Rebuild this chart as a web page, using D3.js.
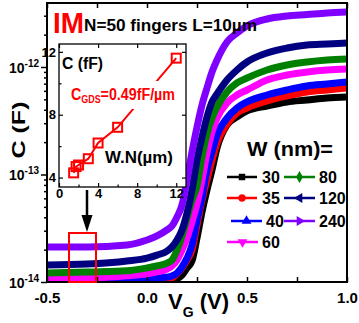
<!DOCTYPE html>
<html><head><meta charset="utf-8">
<script src="https://cdn.jsdelivr.net/npm/d3@7"></script>
<style>
body{margin:0;background:#fff}
svg{display:block;font-family:"Liberation Sans",Arial,sans-serif;font-weight:bold}
</style>
</head><body><svg id="c" width="359" height="323"></svg>
<script>
// ---- data ----
const vg = [-0.5,-0.3,-0.1,0.0,0.05,0.1,0.125,0.15,0.175,0.2,0.225,0.25,0.275,0.3,0.325,0.35,0.4,0.45,0.5,0.6,0.7,0.8,0.9,1.0];
// capacitance in fF for each width W (nm)
const c30  = [7.3,7.6,8.1,8.4,8.8,9.4,10.0,10.7,11.6,13.5,15.7,25.7,44.8,71.8,110,176,289,343,390,434,473,493,515,526];
const c35  = [8.1,8.4,8.8,9.6,10.0,10.4,10.9,11.9,13.5,16.0,19.8,33.9,57.9,88.9,136,196,295,373,416,483,537,585,611,638];
const c40  = [10.2,10.2,10.4,10.7,10.9,11.1,11.4,12.1,13.8,16.7,22.1,37.7,61.7,110,162,233,335,416,473,549,611,666,695,725];
const c60  = [10.9,10.9,11.4,11.9,12.4,13.2,14.1,16.0,19.8,25.7,36.2,53.2,88.9,158.5,248,335,463,549,611,757,843,898,938,958];
const c80  = [12.1,12.4,12.7,13.5,14.1,15.0,16.0,19.8,26.8,39.4,57.9,78.2,146,238,335,425,585,710,790,938,1044,1113,1162,1187];
const c120 = [14.4,14.7,15.7,16.7,17.8,19.4,21.2,24.6,30.5,43.8,71.8,136,223,343,473,561,757,938,1113,1350,1502,1602,1637,1672];
const c240 = [21.2,21.2,22.1,24.6,26.8,30.5,33.2,40.2,52.0,88.9,162,277,443,638,898,1162,1709,2072,2407,2796,2982,3079,3180,3248];
const widthLabels = ["30","35","40","60","80","120","240"];
const seriesColors = ["#000000","#ff0000","#0000ff","#ff00ff","#008000","#000080","#8000ff"];
const xTickLabels = [-0.5,0.0,0.5,1.0];
const xTicks = [-0.5,-0.25,0,0.25,0.5,0.75,1.0];
const yTickExps = [-14,-13,-12];
// inset
const insetWN = [1.5,1.75,2,3,4,6,12];
const insetC  = [4.3,4.7,4.8,5.2,6.2,7.2,11.6];
const insetXTicks = [0,4,8,12];
const insetYTicks = [4,8,12];

const series = [c30,c35,c40,c60,c80,c120,c240];

// ---- layout ----
const svg = d3.select("#c");
const X0=47,X1=347,Y0=3,Y1=282;
const x = d3.scaleLinear().domain([-0.5,1.0]).range([X0,X1]);
const yTop = Math.pow(10,-14+(Y1-Y0)/107.5);
const y = d3.scaleLog().domain([1e-14,yTop]).range([Y1,Y0]);

svg.append("defs").append("clipPath").attr("id","pc")
  .append("rect").attr("x",X0).attr("y",Y0).attr("width",X1-X0).attr("height",Y1-Y0);

const line = d3.line().x((d,i)=>x(vg[i])).y(d=>y(d*1e-15)).curve(d3.curveMonotoneX);
const gc = svg.append("g").attr("clip-path","url(#pc)");
series.forEach((s,i)=>{
  gc.append("path").attr("d",line(s)).attr("fill","none")
    .attr("stroke",seriesColors[i]).attr("stroke-width",7).attr("stroke-linejoin","round");
});

// axes
const axB = svg.append("g").attr("transform",`translate(0,${Y1})`)
  .call(d3.axisBottom(x).tickValues(xTicks).tickSize(-5).tickPadding(10)
    .tickFormat(d=> xTickLabels.includes(d) ? d.toFixed(1) : ""));
const axT = svg.append("g").attr("transform",`translate(0,${Y0})`)
  .call(d3.axisTop(x).tickValues(xTicks).tickSize(-5).tickFormat(""));
const majors = yTickExps.map(e=>Math.pow(10,e));
const minors = [];
yTickExps.forEach(e=>{ for(let m=2;m<=9;m++){const v=m*Math.pow(10,e); if(v<=yTop) minors.push(v);} });
const axL = svg.append("g").attr("transform",`translate(${X0},0)`)
  .call(d3.axisLeft(y).tickValues(majors).tickSize(6).tickFormat(""));
const axLm = svg.append("g").attr("transform",`translate(${X0},0)`)
  .call(d3.axisLeft(y).tickValues(minors).tickSize(3).tickFormat(""));
[axB,axT,axL,axLm].forEach(a=>{
  a.select(".domain").remove();
  a.selectAll("line").attr("stroke","#000").attr("stroke-width",1.5);
  a.selectAll("text").attr("font-size",15).attr("font-weight","bold")
    .attr("font-family","'Liberation Sans',Arial,sans-serif").attr("fill","#000");
});
yTickExps.forEach(e=>{
  const t = svg.append("text").attr("x",39).attr("y",y(Math.pow(10,e))+5.5)
    .attr("text-anchor","end");
  t.append("tspan").attr("font-size",14).text("10");
  t.append("tspan").attr("font-size",10).attr("dy",-6).text(String(e));
});
svg.append("rect").attr("x",X0).attr("y",Y0).attr("width",X1-X0).attr("height",Y1-Y0)
  .attr("fill","none").attr("stroke","#000").attr("stroke-width",2);

// axis titles
svg.append("text").attr("transform","translate(25,130) rotate(-90)").attr("text-anchor","middle")
  .attr("font-size",19).attr("textLength",57).attr("lengthAdjust","spacingAndGlyphs").text("C (F)");
const xt = svg.append("text").attr("x",168).attr("y",309);
xt.append("tspan").attr("font-size",22).text("V");
xt.append("tspan").attr("font-size",14).attr("dy",8).text("G");
xt.append("tspan").attr("font-size",22).attr("dy",-8).text(" (V)");

// title
svg.append("text").attr("x",53).attr("y",33).attr("fill","#ff0000").attr("font-size",30)
  .attr("textLength",31).attr("lengthAdjust","spacingAndGlyphs").text("IM");
svg.append("text").attr("x",84).attr("y",31).attr("font-size",17)
  .attr("textLength",173).attr("lengthAdjust","spacingAndGlyphs").text("N=50 fingers L=10µm");

// red box + arrow
svg.append("rect").attr("x",69).attr("y",233).attr("width",27).attr("height",Y1-233)
  .attr("fill","none").attr("stroke","#ff0000").attr("stroke-width",2);
svg.append("line").attr("x1",87).attr("x2",87).attr("y1",190).attr("y2",216)
  .attr("stroke","#000").attr("stroke-width",2.5);
svg.append("path").attr("d","M81.5,215L92.5,215L87,232Z").attr("fill","#000");

// inset
const IX0=59,IX1=186,IY0=44,IY1=187;
const ix = d3.scaleLinear().domain([0,13]).range([IX0,IX1]);
const iy = d3.scaleLinear().domain([3.4,12.5]).range([IY1,IY0]);
svg.append("rect").attr("x",IX0).attr("y",IY0).attr("width",IX1-IX0).attr("height",IY1-IY0)
  .attr("fill","#fff");
const iaB = svg.append("g").attr("transform",`translate(0,${IY1})`)
  .call(d3.axisBottom(ix).tickValues(insetXTicks).tickSize(-4).tickPadding(2));
const iaBm = svg.append("g").attr("transform",`translate(0,${IY1})`)
  .call(d3.axisBottom(ix).tickValues([2,6,10]).tickSize(-2.5).tickFormat(""));
const iaL = svg.append("g").attr("transform",`translate(${IX0},0)`)
  .call(d3.axisLeft(iy).tickValues(insetYTicks).tickSize(-4).tickPadding(3));
const iaLm = svg.append("g").attr("transform",`translate(${IX0},0)`)
  .call(d3.axisLeft(iy).tickValues([6,10]).tickSize(-2.5).tickFormat(""));
const iaT = svg.append("g").attr("transform",`translate(0,${IY0})`)
  .call(d3.axisTop(ix).tickValues(insetXTicks).tickSize(-4).tickFormat(""));
const iaR = svg.append("g").attr("transform",`translate(${IX1},0)`)
  .call(d3.axisRight(iy).tickValues(insetYTicks).tickSize(-4).tickFormat(""));
[iaB,iaBm,iaL,iaLm,iaT,iaR].forEach(a=>{
  a.select(".domain").remove();
  a.selectAll("line").attr("stroke","#000").attr("stroke-width",1.2);
  a.selectAll("text").attr("font-size",13).attr("font-weight","bold")
    .attr("font-family","'Liberation Sans',Arial,sans-serif").attr("fill","#000");
});
svg.append("rect").attr("x",IX0).attr("y",IY0).attr("width",IX1-IX0).attr("height",IY1-IY0)
  .attr("fill","none").attr("stroke","#000").attr("stroke-width",1.3);

const iline = d3.line().x((d,i)=>ix(insetWN[i])).y(d=>iy(d));
svg.append("path").attr("d",iline(insetC)).attr("fill","none").attr("stroke","#ff0000").attr("stroke-width",2);
svg.selectAll(".isq").data(insetC).enter().append("rect")
  .attr("x",(d,i)=>ix(insetWN[i])-4.5).attr("y",d=>iy(d)-4.5).attr("width",9).attr("height",9)
  .attr("fill","none").attr("stroke","#ff0000").attr("stroke-width",2);

svg.append("rect").attr("x",70).attr("y",81).attr("width",107).attr("height",28).attr("fill","#fff");
const ct = svg.append("text").attr("x",71).attr("y",100).attr("fill","#ff0000")
  .attr("textLength",104).attr("lengthAdjust","spacingAndGlyphs");
ct.append("tspan").attr("font-size",16).text("C");
ct.append("tspan").attr("font-size",10).attr("dy",3).text("GDS");
ct.append("tspan").attr("font-size",16).attr("dy",-3).text("=0.49fF/µm");
svg.append("text").attr("x",62).attr("y",69).attr("font-size",16)
  .attr("textLength",41).attr("lengthAdjust","spacingAndGlyphs").text("C (fF)");
svg.append("text").attr("x",105).attr("y",163).attr("font-size",16)
  .attr("textLength",68).attr("lengthAdjust","spacingAndGlyphs").text("W.N(µm)");

// legend
svg.append("text").attr("x",247).attr("y",156).attr("font-size",20)
  .attr("textLength",86).attr("lengthAdjust","spacingAndGlyphs").text("W (nm)=");
const legendPos = [
  {x1:227,x2:257,tx:262,y:177},{x1:227,x2:257,tx:262,y:198},{x1:231,x2:262,tx:266,y:221},
  {x1:227,x2:258,tx:262,y:242},{x1:284,x2:315,tx:319,y:177},{x1:284,x2:315,tx:319,y:198},
  {x1:284,x2:315,tx:319,y:221}];
const symTypes = [d3.symbolSquare,d3.symbolCircle,d3.symbolTriangle,d3.symbolTriangle,d3.symbolDiamond,d3.symbolTriangle,d3.symbolTriangle];
const symRot = [0,0,0,180,0,-90,90];
widthLabels.forEach((lab,i)=>{
  const p = legendPos[i];
  svg.append("line").attr("x1",p.x1).attr("x2",p.x2).attr("y1",p.y).attr("y2",p.y)
    .attr("stroke",seriesColors[i]).attr("stroke-width",2.5);
  svg.append("path").attr("d",d3.symbol().type(symTypes[i]).size(42)())
    .attr("transform",`translate(${(p.x1+p.x2)/2},${p.y}) rotate(${symRot[i]})`)
    .attr("fill",seriesColors[i]);
  svg.append("text").attr("x",p.tx).attr("y",p.y+5.5).attr("font-size",16).text(lab);
});
</script>
</body></html>
